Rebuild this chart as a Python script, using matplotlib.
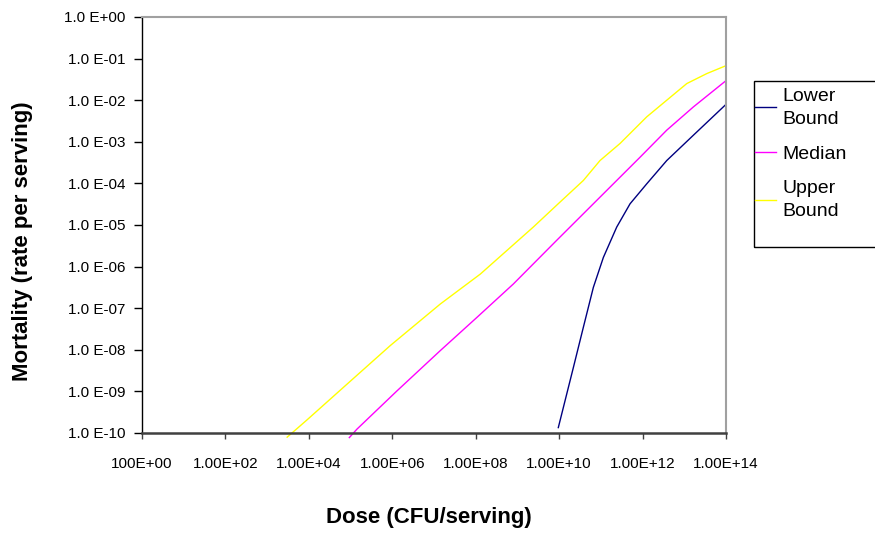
import numpy as np
import matplotlib
matplotlib.use("Agg")
import matplotlib.pyplot as plt
from matplotlib.patches import Rectangle

plt.rcParams['font.family'] = ['Liberation Sans', 'DejaVu Sans']

# log10 of dose (CFU/serving) and log10 of mortality (rate per serving)
upper_log_dose = [3.48, 3.95, 4.91, 5.95, 7.15, 8.11, 9.38, 10.02, 10.58, 10.98,
                  11.46, 12.10, 12.58, 13.06, 13.54, 14.0]
upper_log_mort = [-10.10, -9.69, -8.83, -7.90, -6.90, -6.18, -5.05, -4.45, -3.93, -3.45,
                  -3.04, -2.40, -2.00, -1.60, -1.36, -1.17]

median_log_dose = [4.97, 5.15, 6.11, 7.15, 8.03, 8.90, 9.94, 10.50, 10.74, 11.14,
                   11.94, 12.58, 13.22, 14.0]
median_log_mort = [-10.11, -9.91, -8.99, -8.02, -7.22, -6.42, -5.37, -4.81, -4.57, -4.17,
                   -3.37, -2.72, -2.16, -1.53]

lower_log_dose = [9.98, 10.14, 10.34, 10.58, 10.82, 11.06, 11.38, 11.70, 12.10, 12.58,
                  13.22, 14.0]
lower_log_mort = [-9.87, -9.23, -8.43, -7.46, -6.50, -5.78, -5.05, -4.49, -4.01, -3.45,
                  -2.84, -2.10]

x_tick_exps = [0, 2, 4, 6, 8, 10, 12, 14]
x_tick_labels = ['100E+00', '1.00E+02', '1.00E+04', '1.00E+06', '1.00E+08',
                 '1.00E+10', '1.00E+12', '1.00E+14']
y_tick_exps = [0, -1, -2, -3, -4, -5, -6, -7, -8, -9, -10]
y_tick_labels = ['1.0 E+00', '1.0 E-01', '1.0 E-02', '1.0 E-03', '1.0 E-04', '1.0 E-05',
                 '1.0 E-06', '1.0 E-07', '1.0 E-08', '1.0 E-09', '1.0 E-10']

W, H = 875, 535
fig = plt.figure(figsize=(W / 100, H / 100), dpi=100)
ax = fig.add_axes([142 / W, 1 - 433 / H, (726 - 142) / W, (433 - 17) / H])

p = lambda a: 10.0 ** np.asarray(a)
l1, = ax.plot(p(lower_log_dose), p(lower_log_mort), color='#000080', lw=1.0, clip_on=False)
l2, = ax.plot(p(median_log_dose), p(median_log_mort), color='#FF00FF', lw=1.0, clip_on=False)
l3, = ax.plot(p(upper_log_dose), p(upper_log_mort), color='#FFFF00', lw=1.0, clip_on=False)

ax.set_xscale('log')
ax.set_yscale('log')
ax.set_xlim(1e0, 1e14)
ax.set_ylim(1e-10, 1e0)
ax.set_xticks(p(x_tick_exps))
ax.set_xticklabels(x_tick_labels)
ax.set_yticks(p(y_tick_exps))
ax.set_yticklabels(y_tick_labels)
ax.minorticks_off()
ax.tick_params(axis='x', direction='out', length=4, width=1, pad=13, labelsize=11,
               color='#404040')
ax.tick_params(axis='y', direction='out', length=6, width=1, pad=6, labelsize=11)

for s in ['top', 'right']:
    ax.spines[s].set_color('#a0a0a0')
    ax.spines[s].set_linewidth(1.5)
ax.spines['bottom'].set_color('#404040')
ax.spines['bottom'].set_linewidth(1.8)
ax.spines['left'].set_color('black')
ax.spines['left'].set_linewidth(1.0)

fig.text(23 / W, 1 - 241 / H, 'Mortality (rate per serving)', rotation=90,
         ha='center', va='center', fontsize=16, fontweight='bold')
fig.text(429 / W, 1 - 518 / H, 'Dose (CFU/serving)', ha='center', va='center',
         fontsize=16, fontweight='bold')

fig.patches.append(Rectangle((754 / W, 1 - 247 / H), 140 / W, (247 - 81) / H,
                             transform=fig.transFigure, fill=False, edgecolor='black',
                             lw=1.0))
leg = fig.legend([l1, l2, l3], ['Lower\nBound', 'Median', 'Upper\nBound'],
                 loc='center left', bbox_to_anchor=(755 / W, 1 - 154 / H),
                 frameon=False, fontsize=14, borderpad=0, borderaxespad=0,
                 handlelength=1.1, handletextpad=0.3, labelspacing=0.9)
for t in leg.get_texts():
    t.set_linespacing(1.45)

fig.savefig('out.png', dpi=100)
